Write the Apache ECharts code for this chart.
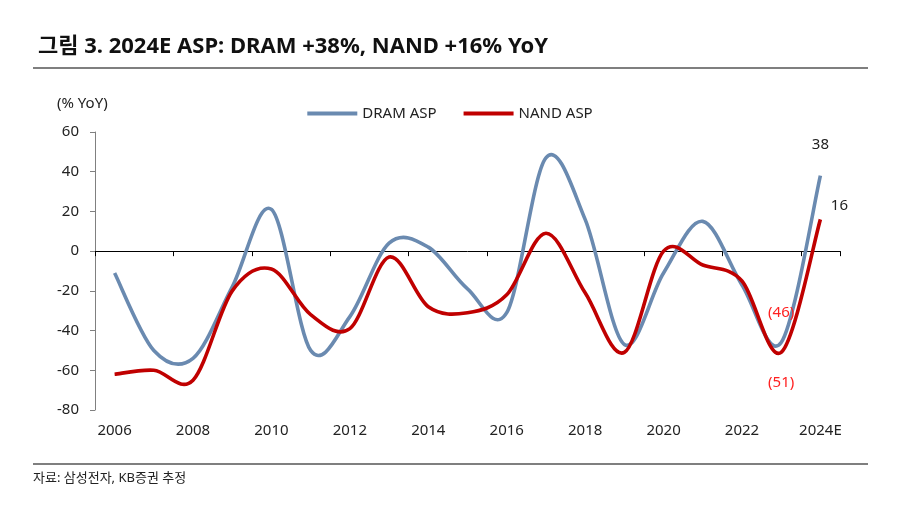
<!DOCTYPE html>
<html>
<head>
<meta charset="utf-8">
<script src="https://cdn.jsdelivr.net/npm/echarts@6/dist/echarts.min.js"></script>
<style>
html,body{margin:0;padding:0;background:#fff;}
#chart{width:900px;height:518px;}
</style>
</head>
<body>
<div id="chart"></div>
<script>
const years = ['2006','2007','2008','2009','2010','2011','2012','2013','2014','2015','2016','2017','2018','2019','2020','2021','2022','2023','2024E'];
const dramAsp = [-11, -50, -54, -18, 21, -50, -33, 4, 2, -19, -31, 47, 16, -47, -11, 15, -17, -46, 38];
const nandAsp = [-62, -60, -65, -20, -9, -32, -39, -3, -28, -31, -22, 9, -21, -51, 0, -7, -15, -51, 16];
const yTicks = [-80, -60, -40, -20, 0, 20, 40, 60];

const FONT = '"Noto Sans", "Noto Sans CJK KR", sans-serif';
const DRAM_COLOR = '#6a8ab0';
const NAND_COLOR = '#c00000';
const chart = echarts.init(document.getElementById('chart'));

// Smoothed line (Catmull-Rom style Bezier) through points placed by the axis scales
function smoothRenderer(values, color) {
  return function (params, api) {
    if (params.dataIndex !== 0) return null;
    const pts = values.map((v, i) => api.coord([i, v]));
    const n = pts.length;
    let d = 'M' + pts[0][0] + ' ' + pts[0][1];
    for (let i = 0; i < n - 1; i++) {
      const p0 = pts[Math.max(i - 1, 0)], p1 = pts[i], p2 = pts[i + 1], p3 = pts[Math.min(i + 2, n - 1)];
      const c1x = p1[0] + (p2[0] - p0[0]) / 6, c1y = p1[1] + (p2[1] - p0[1]) / 6;
      const c2x = p2[0] - (p3[0] - p1[0]) / 6, c2y = p2[1] - (p3[1] - p1[1]) / 6;
      d += ' C' + c1x + ' ' + c1y + ' ' + c2x + ' ' + c2y + ' ' + p2[0] + ' ' + p2[1];
    }
    return {
      type: 'path',
      shape: {pathData: d},
      style: {stroke: color, fill: null, lineWidth: 3.6, lineJoin: 'round', lineCap: 'butt'}
    };
  };
}

function labelPoint(i, v, opts) {
  return {value: [i, v], label: Object.assign({show: true, fontSize: 15, fontFamily: FONT}, opts)};
}
const last = years.length - 1;
const labelData = [
  labelPoint(last, dramAsp[last], {position: 'top', distance: 23, color: '#222', formatter: String(dramAsp[last])}),
  labelPoint(last - 1, dramAsp[last - 1], {position: 'top', distance: 22, color: '#ff2020', formatter: '(' + Math.abs(dramAsp[last - 1]) + ')'}),
  labelPoint(last, nandAsp[last], {position: 'top', distance: 6, offset: [19, 0], color: '#222', formatter: String(nandAsp[last])}),
  labelPoint(last - 1, nandAsp[last - 1], {position: 'bottom', distance: 23, color: '#ff2020', formatter: '(' + Math.abs(nandAsp[last - 1]) + ')'})
];

chart.setOption({
  backgroundColor: '#fff',
  animation: false,
  title: {
    text: '그림 3. 2024E ASP: DRAM +38%, NAND +16% YoY',
    left: 33, top: 31,
    textStyle: {fontFamily: FONT, fontSize: 22, fontWeight: 'bold', color: '#111'}
  },
  graphic: [
    {type: 'rect', shape: {x: 33, y: 67, width: 835, height: 2}, style: {fill: '#7f7f7f'}},
    {type: 'rect', shape: {x: 33, y: 463, width: 835, height: 2}, style: {fill: '#7f7f7f'}},
    {type: 'text', left: 33, top: 472, style: {text: '자료: 삼성전자, KB증권 추정', font: '13px ' + FONT, fill: '#222'}},
    {type: 'text', left: 57, top: 96, style: {text: '(% YoY)', font: '15px ' + FONT, fill: '#222'}}
  ],
  legend: {
    top: 101, left: 'center',
    itemWidth: 50, itemHeight: 4, itemGap: 27,
    icon: 'rect',
    textStyle: {fontFamily: FONT, fontSize: 15, color: '#222'},
    data: ['DRAM ASP', 'NAND ASP']
  },
  grid: {left: 95, right: 60, top: 132, bottom: 108, containLabel: false},
  xAxis: [
    {
      type: 'category', data: years, boundaryGap: true, position: 'bottom',
      axisLine: {show: false, onZero: false},
      axisTick: {show: false},
      axisLabel: {interval: 1, margin: 13, fontFamily: FONT, fontSize: 15, color: '#222'}
    },
    {
      type: 'category', data: years, boundaryGap: true,
      axisLine: {show: true, onZero: true, onZeroAxisIndex: 0, lineStyle: {color: '#000', width: 1}},
      axisTick: {show: true, inside: true, interval: 1, length: 5, lineStyle: {color: '#000'}},
      axisLabel: {show: false}
    }
  ],
  yAxis: {
    type: 'value', min: -80, max: 60, interval: 20,
    axisLine: {show: true, onZero: false, lineStyle: {color: '#808080', width: 1}},
    axisTick: {show: true, length: 5, lineStyle: {color: '#808080'}},
    splitLine: {show: false},
    axisLabel: {margin: 16, fontFamily: FONT, fontSize: 15, color: '#222',
      formatter: v => yTicks.includes(v) ? String(v) : ''}
  },
  series: [
    {
      name: 'DRAM ASP', type: 'custom', xAxisIndex: 0, z: 2,
      data: dramAsp.map((v, i) => [i, v]),
      itemStyle: {color: DRAM_COLOR},
      renderItem: smoothRenderer(dramAsp, DRAM_COLOR)
    },
    {
      name: 'NAND ASP', type: 'custom', xAxisIndex: 0, z: 3,
      data: nandAsp.map((v, i) => [i, v]),
      itemStyle: {color: NAND_COLOR},
      renderItem: smoothRenderer(nandAsp, NAND_COLOR)
    },
    {
      name: 'labels', type: 'scatter', xAxisIndex: 0, z: 4,
      symbolSize: 0, itemStyle: {opacity: 1}, data: labelData, silent: true
    }
  ]
});
</script>
</body>
</html>
